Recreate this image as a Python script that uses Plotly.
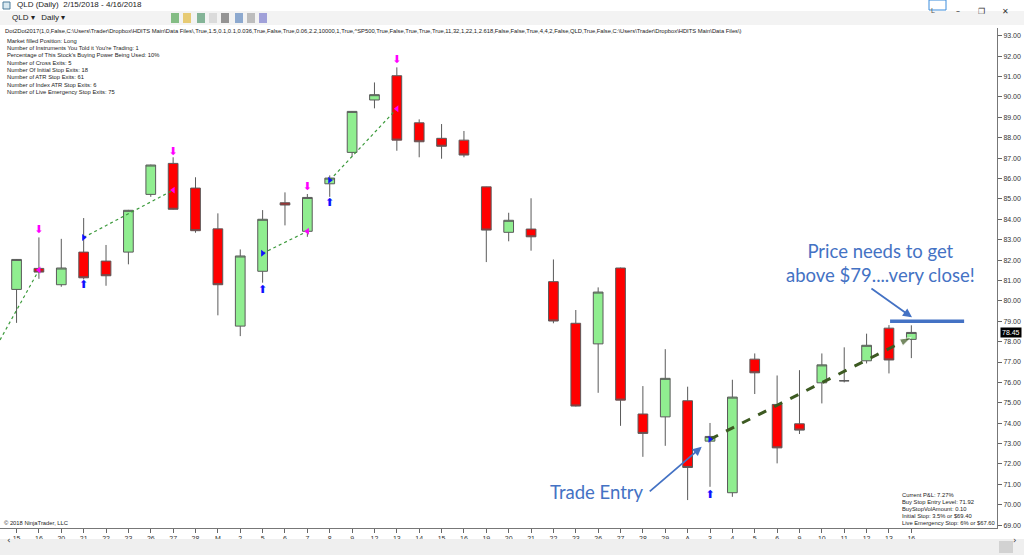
import plotly.graph_objects as go

# QLD daily bars, 2/15/2018 - 4/16/2018
day_labels = ["15", "16", "20", "21", "22", "23", "26", "27", "28", "M",
              "2", "5", "6", "7", "8", "9", "12", "13", "14", "15",
              "16", "19", "20", "21", "22", "23", "26", "27", "28", "29",
              "A", "3", "4", "5", "6", "9", "10", "11", "12", "13", "16"]
opens = [80.56, 81.59, 80.79, 82.39, 81.95, 82.39, 85.22, 86.74, 85.53, 83.53,
         78.76, 81.45, 84.81, 83.41, 85.74, 87.28, 89.85, 91.04, 88.73, 87.97,
         87.88, 85.59, 83.36, 83.52, 80.94, 78.90, 77.89, 81.61, 74.45, 74.31,
         75.10, 73.12, 70.59, 77.14, 74.92, 73.97, 75.98, 76.08, 77.06, 78.66, 78.11]
highs = [82.05, 83.11, 83.04, 84.06, 82.74, 84.46, 86.68, 87.04, 86.06, 84.29,
         82.52, 84.45, 85.32, 85.24, 86.15, 89.30, 90.71, 91.45, 88.90, 88.67,
         88.33, 85.60, 84.32, 85.03, 82.03, 79.55, 80.66, 81.63, 75.82, 77.63,
         75.79, 74.01, 76.13, 77.42, 76.34, 76.60, 77.42, 77.72, 78.39, 78.81, 78.80]
lows = [78.92, 81.08, 80.69, 81.05, 80.74, 81.79, 85.10, 84.47, 83.34, 79.29,
        78.27, 80.89, 83.70, 83.14, 85.10, 87.07, 89.44, 87.36, 87.04, 86.97,
        87.04, 81.90, 82.92, 82.46, 78.90, 74.82, 75.49, 73.87, 72.35, 72.89,
        70.23, 70.88, 70.39, 75.43, 72.03, 73.47, 74.97, 76.00, 76.93, 76.44, 77.19]
closes = [82.03, 81.41, 81.61, 81.13, 81.23, 84.44, 86.66, 84.49, 83.44, 80.79,
          82.20, 84.00, 84.70, 85.07, 86.02, 89.29, 90.11, 87.88, 87.80, 87.58,
          87.15, 83.47, 83.95, 83.14, 79.01, 74.84, 80.43, 75.13, 73.50, 76.20,
          71.83, 73.35, 75.28, 76.47, 72.79, 73.66, 76.86, 76.08, 77.82, 77.10, 78.45]
bar_idx = list(range(len(day_labels)))

# strategy signals
entry_x = [3, 11, 14, 31]
entry_y = [83.11, 82.33, 85.91, 73.21]
exit_x = [1, 7, 13, 17]
exit_y = [81.51, 85.43, 83.41, 89.42]
trade_x = [-0.74, 1, None, 3, 7, None, 11, 13, None, 14, 17]
trade_y = [78.08, 81.51, None, 83.11, 85.43, None, 82.33, 83.41, None, 85.91, 89.42]
buy_arrow_x = [3, 11, 14, 31]
buy_arrow_y = [80.77, 80.53, 84.78, 70.47]
sell_arrow_x = [1, 7, 13, 17]
sell_arrow_y = [83.47, 87.30, 85.59, 91.81]
open_trade_x = [31, 40]
open_trade_y = [73.21, 78.21]
target_x = [39.05, 42.36]
target_y = [79.0, 79.0]
last_price = 78.45

header = ("Dot2Dot2017(1,0,False,C:\\Users\\Trader\\Dropbox\\HDITS Main\\Data Files\\,True,1.5,0.1,0.1,0.036,"
          "True,False,True,0.06,2.2,10000,1,True,^SP500,True,False,True,True,True,11,32,1,22,1,2.618,False,"
          "False,True,4,4,2,False,QLD,True,False,C:\\Users\\Trader\\Dropbox\\HDITS Main\\Data Files\\)")
stats_lines = ["Market filled Position: Long",
               "Number of Instruments You Told it You're Trading: 1",
               "Percentage of This Stock's Buying Power Being Used: 10%",
               "Number of Cross Exits: 5",
               "Number Of Initial Stop Exits: 18",
               "Number of ATR Stop Exits: 61",
               "Number of Index ATR Stop Exits: 6",
               "Number of Live Emergency Stop Exits: 75"]
pnl_lines = ["Current P&L: 7.27%",
             "Buy Stop Entry Level: 71.92",
             "BuyStopVolAmount: 0.10",
             "Initial Stop: 3.5% or $69.40",
             "Live Emergency Stop: 6% or $67.60"]

W, H = 1024, 555
ML, MR, MT, MB = 0, 27, 28, 27
PW, PH = W - ML - MR, H - MT - MB


def px_x(x):
    return (x - ML) / PW


def px_y(y):
    return (H - MB - y) / PH


fig = go.Figure()

fig.add_trace(go.Candlestick(
    x=bar_idx, open=opens, high=highs, low=lows, close=closes,
    increasing=dict(fillcolor="#90ee90", line=dict(color="#5a5a5a", width=1)),
    decreasing=dict(fillcolor="#ff0000", line=dict(color="#5a5a5a", width=1)),
    whiskerwidth=0, hoverinfo="skip", showlegend=False))

fig.add_trace(go.Scatter(x=trade_x, y=trade_y, mode="lines",
                         line=dict(color="#3c9a3c", width=1.2, dash="dot"),
                         hoverinfo="skip", showlegend=False))
fig.add_trace(go.Scatter(x=open_trade_x, y=open_trade_y, mode="lines+markers",
                         line=dict(color="#3d5a22", width=3, dash="dash"),
                         marker=dict(symbol="arrow", angleref="previous", size=[0, 12],
                                     color="#3d5a22"),
                         hoverinfo="skip", showlegend=False))
fig.add_trace(go.Scatter(x=entry_x, y=entry_y, mode="markers",
                         marker=dict(symbol="triangle-right", size=6, color="#1010ff"),
                         hoverinfo="skip", showlegend=False))
fig.add_trace(go.Scatter(x=exit_x, y=exit_y, mode="markers",
                         marker=dict(symbol="triangle-left", size=6, color="#ff00ff"),
                         hoverinfo="skip", showlegend=False))
fig.add_trace(go.Scatter(x=buy_arrow_x, y=buy_arrow_y, mode="text", text=["\u2b06"] * 4,
                         textfont=dict(color="#1010ff", size=11, family="DejaVu Sans"),
                         hoverinfo="skip", showlegend=False))
fig.add_trace(go.Scatter(x=sell_arrow_x, y=sell_arrow_y, mode="text", text=["\u2b07"] * 4,
                         textfont=dict(color="#ff00ff", size=11, family="DejaVu Sans"),
                         hoverinfo="skip", showlegend=False))
fig.add_trace(go.Scatter(x=target_x, y=target_y, mode="lines",
                         line=dict(color="#4472c4", width=3.5),
                         hoverinfo="skip", showlegend=False))

small = dict(family="Liberation Sans, Arial", size=5.8, color="#222222")
callout = dict(family="Lato, Open Sans", size=18.5, color="#4472c4")

ann = []
ann.append(dict(xref="paper", yref="paper", x=px_x(3), y=px_y(31), text=header,
                showarrow=False, xanchor="left", yanchor="middle", font=small))
for i, line in enumerate(stats_lines):
    ann.append(dict(xref="paper", yref="paper", x=px_x(5), y=px_y(40.5 + i * 7.4), text=line,
                    showarrow=False, xanchor="left", yanchor="middle", font=small))
for i, line in enumerate(pnl_lines):
    ann.append(dict(xref="paper", yref="paper", x=px_x(900), y=px_y(494.5 + i * 7.1), text=line,
                    showarrow=False, xanchor="left", yanchor="middle", font=small))
ann.append(dict(xref="paper", yref="paper", x=px_x(2), y=px_y(523), text="\u00a9 2018 NinjaTrader, LLC",
                showarrow=False, xanchor="left", yanchor="middle", font=small))
# callouts
ann.append(dict(x=38.6, y=81.85, text="Price needs to get<br>above $79....very close!",
                showarrow=False, font=callout, align="center"))
ann.append(dict(x=40.03, y=79.19, ax=38.15, ay=80.66, axref="x", ayref="y", text="",
                showarrow=True, arrowhead=2, arrowsize=1, arrowwidth=1.8, arrowcolor="#4472c4"))
ann.append(dict(x=25.95, y=70.62, text="Trade Entry", showarrow=False, font=callout))
ann.append(dict(x=30.63, y=72.84, ax=28.24, ay=70.59, axref="x", ayref="y", text="",
                showarrow=True, arrowhead=2, arrowsize=1, arrowwidth=1.8, arrowcolor="#4472c4"))
# last price tag
ann.append(dict(xref="paper", yref="y", x=px_x(1000), y=last_price, text=f"{last_price:.2f}",
                showarrow=False, xanchor="left", yanchor="middle", bgcolor="#000000",
                font=dict(family="Liberation Sans, Arial", size=7, color="#ffffff"), borderpad=1))
# window chrome
ann.append(dict(xref="paper", yref="paper", x=px_x(15), y=px_y(5), text="QLD (Daily)  2/15/2018 - 4/16/2018",
                showarrow=False, xanchor="left", yanchor="middle",
                font=dict(family="Liberation Sans, Arial", size=8, color="#222222")))
ann.append(dict(xref="paper", yref="paper", x=px_x(10), y=px_y(18), text="QLD \u25be   Daily \u25be",
                showarrow=False, xanchor="left", yanchor="middle",
                font=dict(family="Liberation Sans, Arial", size=8, color="#222222")))
ann.append(dict(xref="paper", yref="paper", x=px_x(937), y=px_y(5), text="L", showarrow=False,
                font=dict(family="Liberation Sans, Arial", size=7, color="#555555")))
for xx, ch in [(962, "\u2013"), (987, "\u2750"), (1011, "\u2715")]:
    ann.append(dict(xref="paper", yref="paper", x=px_x(xx), y=px_y(5), text=ch, showarrow=False,
                    font=dict(family="DejaVu Sans", size=8, color="#333333")))
ann.append(dict(xref="paper", yref="paper", x=px_x(5), y=px_y(547), text="\u2039", showarrow=False,
                font=dict(family="DejaVu Sans", size=9, color="#333333")))
ann.append(dict(xref="paper", yref="paper", x=px_x(1019), y=px_y(547), text="\u203a", showarrow=False,
                font=dict(family="DejaVu Sans", size=9, color="#333333")))

shapes = [
    dict(type="rect", xref="paper", yref="paper", x0=px_x(0), x1=px_x(1024), y0=px_y(25), y1=px_y(11),
         fillcolor="#f3f3f3", line=dict(width=0), layer="below"),
    dict(type="rect", xref="paper", yref="paper", x0=px_x(0), x1=px_x(1024), y0=px_y(555), y1=px_y(539),
         fillcolor="#efefef", line=dict(width=0)),
    dict(type="rect", xref="paper", yref="paper", x0=px_x(999), x1=px_x(1013), y0=px_y(553), y1=px_y(541),
         fillcolor="#d2d2d2", line=dict(width=0)),
    dict(type="rect", xref="paper", yref="paper", x0=px_x(929), x1=px_x(946), y0=px_y(10), y1=px_y(0),
         fillcolor="rgba(0,0,0,0)", line=dict(width=1, color="#3c8ddc")),
    dict(type="rect", xref="paper", yref="paper", x0=px_x(3), x1=px_x(10), y0=px_y(9), y1=px_y(2),
         fillcolor="#d8e8f0", line=dict(width=1, color="#4a7a9a")),
]
for k, xx in enumerate([40, 52, 66, 78, 90, 104, 116, 128]):
    shapes.append(dict(type="rect", xref="paper", yref="paper", x0=px_x(xx + 131), x1=px_x(xx + 139),
                       y0=px_y(23), y1=px_y(13), fillcolor=["#3a9a3a", "#e0b020", "#3a8a5a", "#cccccc",
                                                            "#555555", "#4a78b8", "#999999", "#6a6ac8"][k],
                       line=dict(width=0), opacity=0.6))

fig.update_layout(
    width=W, height=H,
    margin=dict(l=ML, r=MR, t=MT, b=MB),
    paper_bgcolor="#ffffff", plot_bgcolor="#ffffff",
    boxgap=0.38,
    showlegend=False,
    annotations=ann,
    shapes=shapes,
    xaxis=dict(range=[-0.74, 43.83], rangeslider=dict(visible=False),
               tickmode="array", tickvals=bar_idx, ticktext=day_labels,
               ticks="outside", ticklen=4, tickcolor="#666666",
               tickfont=dict(family="Liberation Sans, Arial", size=7, color="#333333"),
               showgrid=False, zeroline=False, showline=True, linecolor="#777777", linewidth=1),
    yaxis=dict(range=[68.86, 93.38], side="right", dtick=1, tickformat=".2f",
               ticks="outside", ticklen=4, tickcolor="#666666",
               tickfont=dict(family="Liberation Sans, Arial", size=7, color="#333333"),
               showgrid=False, zeroline=False, showline=True, linecolor="#777777", linewidth=1),
)

# page body margin would push the 1024x555 figure off the window
fig.write_html("out.html", config={"displayModeBar": False},
               post_script="document.body.style.margin='0';document.body.style.overflow='hidden';")
